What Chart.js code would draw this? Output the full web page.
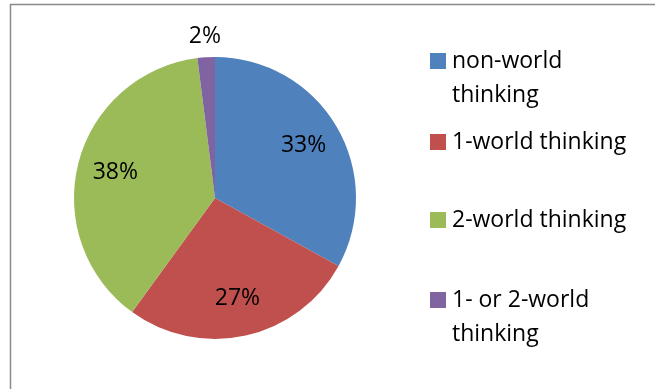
<!DOCTYPE html>
<html>
<head>
<meta charset="utf-8">
<script src="https://cdn.jsdelivr.net/npm/chart.js@4/dist/chart.umd.min.js"></script>
<style>
  html, body { margin: 0; padding: 0; background: #fff; }
  #wrap { width: 655px; height: 389px; }
</style>
</head>
<body>
<div id="wrap"><canvas id="chart" width="655" height="389"></canvas></div>
<script>
const labels = ["non-world thinking", "1-world thinking", "2-world thinking", "1- or 2-world thinking"];
const shares = [33, 27, 38, 2];
const colors = ["#4F81BD", "#C0504D", "#9BBB59", "#8064A2"];

// legend rows: wrapped text lines and the y of the first line
const legendLines = [["non-world", "thinking"], ["1-world thinking"], ["2-world thinking"], ["1- or 2-world", "thinking"]];
const legendY = [61, 142, 220, 300];

const font = "23px 'Open Sans', sans-serif";

const frame = {
    id: "frame",
    beforeDraw(chart) {
        const ctx = chart.ctx;
        ctx.save();
        ctx.strokeStyle = "#8a8a8a";
        ctx.lineWidth = 1.5;
        ctx.strokeRect(10.5, 4.5, 700, 420);
        ctx.restore();
    }
};

const sliceLabels = {
    id: "sliceLabels",
    afterDatasetsDraw(chart) {
        const ctx = chart.ctx;
        const meta = chart.getDatasetMeta(0);
        ctx.save();
        ctx.font = font;
        ctx.fillStyle = "#000";
        ctx.textAlign = "center";
        ctx.textBaseline = "middle";
        meta.data.forEach((arc, i) => {
            const mid = (arc.startAngle + arc.endAngle) / 2;
            const small = shares[i] < 5;
            const r = arc.outerRadius * (small ? 1.15 : 0.73);
            ctx.fillText(shares[i] + "%", arc.x + Math.cos(mid) * r, arc.y + Math.sin(mid) * r);
        });
        ctx.restore();
    }
};

const sideLegend = {
    id: "sideLegend",
    afterDraw(chart) {
        const ctx = chart.ctx;
        ctx.save();
        ctx.font = font;
        ctx.textBaseline = "middle";
        legendLines.forEach((lines, i) => {
            ctx.fillStyle = colors[i];
            ctx.fillRect(430, legendY[i] - 8, 16, 16);
            ctx.fillStyle = "#000";
            lines.forEach((t, j) => ctx.fillText(t, 452, legendY[i] + j * 34));
        });
        ctx.restore();
    }
};

new Chart(document.getElementById("chart"), {
    type: "pie",
    data: {
        labels: labels,
        datasets: [{
            data: shares,
            backgroundColor: colors,
            borderWidth: 0
        }]
    },
    options: {
        responsive: false,
        animation: false,
        layout: { padding: { left: 74, right: 299, top: 57, bottom: 50 } },
        plugins: {
            legend: { display: false },
            tooltip: { enabled: false }
        }
    },
    plugins: [frame, sliceLabels, sideLegend]
});
</script>
</body>
</html>
